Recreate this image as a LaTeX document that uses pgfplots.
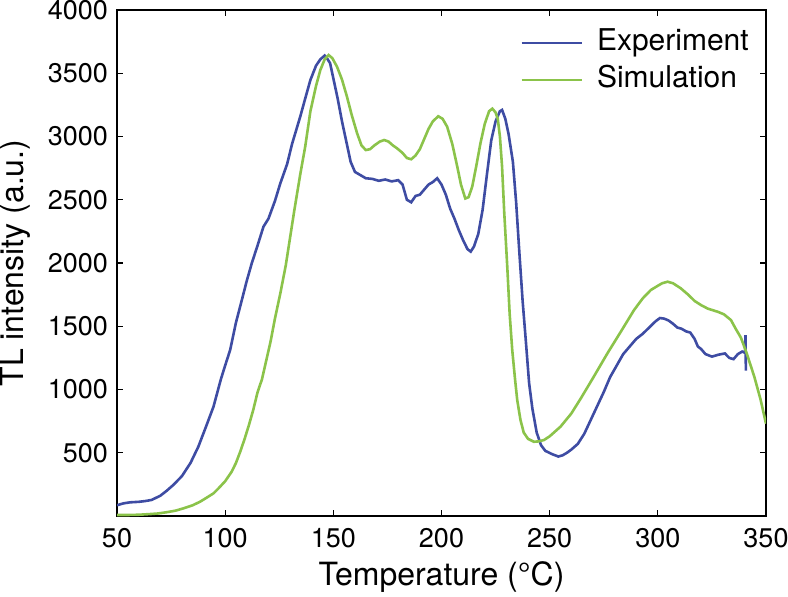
\documentclass[border=0pt]{standalone}
\usepackage{fontspec}
\setmainfont{TeX Gyre Heros}
\usepackage{pgfplots}
\pgfplotsset{compat=1.18}
\definecolor{expblue}{RGB}{62,76,163}
\definecolor{simgreen}{RGB}{139,195,74}
\begin{document}
\begin{tikzpicture}
\useasboundingbox (0,0) rectangle (394pt,298pt);
\begin{axis}[
  at={(58.5pt,40pt)}, anchor=south west,
  scale only axis, width=324.5pt, height=253pt,
  xmin=50, xmax=350, ymin=0, ymax=4000,
  xtick={50,100,...,350}, ytick={500,1000,...,4000},
  tick align=inside, major tick length=3pt,
  axis line style={line width=0.6pt}, every tick/.style={black,line width=0.6pt},
  /pgf/number format/assume math mode=true,
  /pgf/number format/1000 sep={},
  tick label style={font=\fontsize{13.5}{13.5}\selectfont},
  xticklabel style={yshift=-2.4pt},
  yticklabel style={xshift=-1.0pt},
  xlabel={Temperature (\textdegree C)},
  ylabel={TL intensity (a.u.)},
  label style={font=\fontsize{16}{16}\selectfont},
  xlabel style={at={(axis description cs:0.5,0)}, anchor=base, yshift=-34.5pt, inner sep=0pt},
  ylabel style={at={(axis description cs:-0.1803,0.5)}, anchor=north, inner sep=0pt},
  legend style={draw=none, fill=none, inner sep=0pt, at={(0.621,0.9625)}, anchor=north west,
    font=\fontsize{15}{15}\selectfont, row sep=5pt, column sep=7pt,
    nodes={inner sep=0pt, text height=10.5pt, text depth=3pt}},
  legend cell align=left,
  legend image code/.code={\draw[#1] (0pt,0pt) -- (30pt,0pt);},
]
\addplot[expblue, line width=1.3pt] coordinates {
(50,85)(53,100)(56,108)(60,112)(63,118)(66,127)(70,160)(73,200)(76,245)(80,315)
(84,420)(87.6,548)(91,700)(94.6,864)(98,1080)(100,1190)(102.3,1312)(105,1530)
(107.7,1707)(110,1860)(112.3,1998)(115,2140)(117.7,2287)(120,2350)(123,2490)
(125.5,2630)(128.6,2780)(131,2946)(133,3060)(134.7,3157)(137,3300)(139.4,3447)
(142,3560)(144,3610)(146,3640)(147,3620)(148.5,3580)(150,3460)(152,3300)(154,3120)
(156,2960)(158,2800)(160,2720)(162,2700)(165,2670)(168,2665)(171,2650)(174,2660)
(177,2645)(180,2655)(182,2620)(184,2500)(186,2480)(188,2530)(190,2540)(192,2580)
(194,2620)(196,2640)(198,2670)(200,2620)(202,2540)(204,2430)(206,2350)(208,2260)
(210,2180)(212,2110)(213.5,2090)(215,2130)(217,2230)(219,2420)(221,2700)(223,2970)
(225,3120)(227,3200)(228,3210)(229.5,3140)(231,3020)(233,2800)(234.5,2480)(236,2080)
(237.5,1700)(239,1380)(240.5,1050)(242,850)(244,660)(246,560)(248,515)(251,490)
(254,470)(256,480)(258,500)(260,525)(263,570)(266,650)(269,760)(272,870)(275,980)
(278,1100)(281,1190)(284,1280)(287,1340)(290,1400)(293,1440)(296,1490)(299,1540)
(301,1565)(303,1560)(305,1545)(307,1520)(309,1490)(311,1480)(313,1460)(315,1450)
(317,1400)(318.5,1340)(320,1320)(322,1280)(325,1260)(328,1275)(331,1285)(333,1250)
(335,1240)(337,1280)(339,1300)(340.3,1290)(340.5,1430)(340.7,1150)
};
\addlegendentry{Experiment}
\addplot[simgreen, line width=1.3pt] coordinates {
(50,8)(55,8)(60,10)(65,15)(69,20)(73,30)(77,42)(81,62)(85,85)(88.4,113)(91,140)
(94.6,179)(97,220)(100,275)(103,350)(105,420)(107,510)(109,610)(111,720)(113,840)
(115,980)(117,1080)(119,1230)(121,1380)(123,1560)(125.5,1760)(128,1980)(130,2200)
(132,2420)(134.7,2700)(137,2920)(139.4,3200)(142,3400)(144,3526)(146,3610)(147.8,3644)
(149.5,3620)(151.7,3552)(154,3450)(156.3,3315)(158.5,3170)(161,3025)(163,2930)
(165,2893)(167,2900)(169,2930)(171.5,2960)(173.5,2972)(175.5,2960)(177.5,2930)
(179.5,2906)(182,2870)(184,2830)(186,2820)(188,2850)(190,2900)(192,2980)(194,3060)
(196,3120)(198.5,3160)(200.5,3140)(202.6,3078)(205,2940)(207.3,2761)(209,2620)
(211,2510)(212.5,2520)(214.2,2603)(216,2760)(218,2946)(220,3100)(222,3200)(223.5,3220)
(225,3190)(226,3140)(227,3000)(228,2761)(229,2400)(230.4,1971)(231.5,1600)(232.7,1312)
(234,1080)(235,917)(236.5,760)(238,660)(240,610)(242.7,587)(245,590)(247.4,601)
(250,630)(255,706)(260,810)(264.4,930)(270,1090)(276.7,1286)(283,1460)(289,1628)
(293,1720)(296.8,1787)(300,1820)(302,1840)(304.5,1852)(307,1840)(310.6,1800)(314,1750)
(317,1700)(319.9,1668)(323,1640)(327.6,1615)(330.5,1595)(333.8,1549)(336,1480)
(338.4,1410)(341,1290)(344.6,1101)(347.5,920)(350,730)
};
\addlegendentry{Simulation}
\end{axis}
\end{tikzpicture}
\end{document}
